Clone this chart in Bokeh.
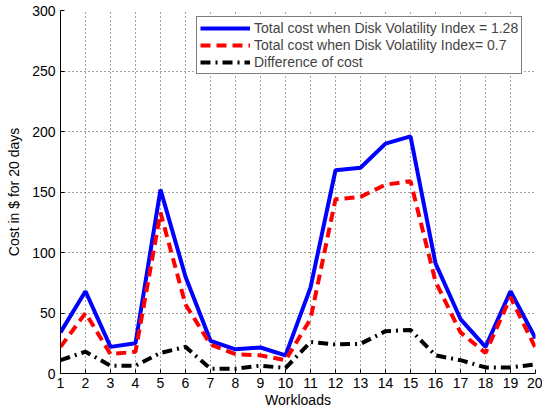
from bokeh.plotting import figure
from bokeh.models import Legend, LegendItem, FixedTicker, Range1d
from bokeh.embed import file_html
from bokeh.resources import INLINE

workloads = list(range(1, 21))
cost_128 = [34, 68, 22, 25, 152, 80, 27, 20, 21.5, 15, 71, 168, 170, 190, 196, 91, 45, 22, 68, 29]
cost_07 = [22, 50, 16, 18, 133, 57, 24, 16, 15, 11, 45, 144, 146, 156, 159, 76, 34, 17, 63, 21]
diff = [11, 18, 6.5, 6.5, 17, 22, 4, 4, 6.5, 4.5, 26, 24, 24.5, 35, 36, 15, 11, 5, 5, 7.5]
y_ticks = [0, 50, 100, 150, 200, 250, 300]

FONT = "Liberation Sans"

p = figure(width=542, height=410, output_backend="svg", toolbar_location=None,
           x_range=Range1d(1, 20), y_range=Range1d(0, 300),
           min_border_left=60, min_border_right=7, min_border_top=10, min_border_bottom=37)
p.outline_line_color = None
p.background_fill_color = "white"
p.border_fill_color = "white"

r1 = p.line(workloads, cost_128, line_color="#0000ff", line_width=4)
r2 = p.line(workloads, cost_07, line_color="#ff0000", line_width=4, line_dash="10 6")
r3 = p.line(workloads, diff, line_color="#000000", line_width=4, line_dash="10 5 2 5")

p.xaxis.ticker = FixedTicker(ticks=workloads)
p.yaxis.ticker = FixedTicker(ticks=y_ticks)
for ax in (p.xaxis[0], p.yaxis[0]):
    ax.major_tick_in = 4
    ax.major_tick_out = 0
    ax.minor_tick_in = 0
    ax.minor_tick_out = 0
    ax.axis_line_color = "black"
    ax.major_tick_line_color = "black"
    ax.major_label_text_font = FONT
    ax.major_label_text_font_size = "14px"
    ax.major_label_text_color = "black"
    ax.axis_label_text_font = FONT
    ax.axis_label_text_font_size = "14px"
    ax.axis_label_text_font_style = "normal"
    ax.axis_label_text_color = "black"
p.xaxis.axis_label = "Workloads"
p.yaxis.axis_label = "Cost in $ for 20 days"
p.xaxis.major_label_standoff = 4
p.xaxis.axis_label_standoff = 1
p.yaxis.major_label_standoff = 5
p.yaxis.axis_label_standoff = 7

for g in (p.xgrid[0], p.ygrid[0]):
    g.grid_line_color = "#444444"
    g.grid_line_dash = "1 3"
    g.grid_line_width = 1

legend = Legend(items=[
    LegendItem(label="Total cost when Disk Volatility Index = 1.28", renderers=[r1]),
    LegendItem(label="Total cost when Disk Volatility Index= 0.7", renderers=[r2]),
    LegendItem(label="Difference of cost", renderers=[r3]),
], location=(136, 299))
legend.border_line_color = "black"
legend.border_line_width = 1
legend.background_fill_alpha = 1
legend.label_text_font = FONT
legend.label_text_font_size = "14px"
legend.label_height = 16
legend.glyph_height = 16
legend.glyph_width = 50
legend.spacing = 1
legend.padding = 3
legend.margin = 0
legend.label_standoff = 4
p.add_layout(legend, "center")

open("out.html", "w").write(file_html(p, INLINE))
